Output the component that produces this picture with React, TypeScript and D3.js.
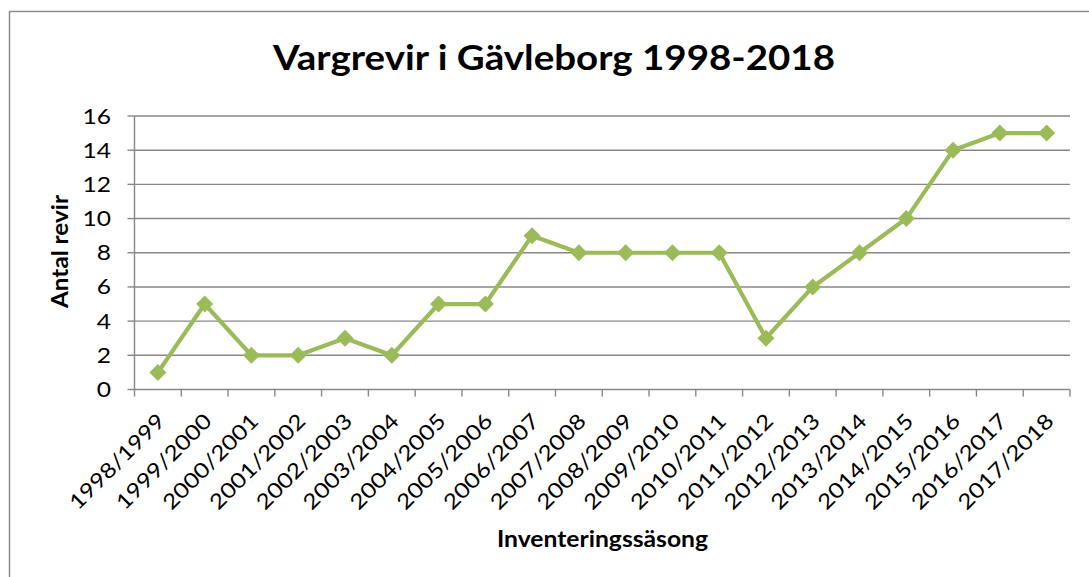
import React from "react";
import * as d3 from "d3";

const seasons = [
  "1998/1999", "1999/2000", "2000/2001", "2001/2002", "2002/2003",
  "2003/2004", "2004/2005", "2005/2006", "2006/2007", "2007/2008",
  "2008/2009", "2009/2010", "2010/2011", "2011/2012", "2012/2013",
  "2013/2014", "2014/2015", "2015/2016", "2016/2017", "2017/2018",
];
const revir = [1, 5, 2, 2, 3, 2, 5, 5, 9, 8, 8, 8, 8, 3, 6, 8, 10, 14, 15, 15];
const yTicks = [0, 2, 4, 6, 8, 10, 12, 14, 16];

const W = 1089;
const H = 577;
const left = 134.5;
const right = 1070;
const top = 116;
const bottom = 389.5;
const font = "Lato, 'Open Sans', 'Noto Sans', sans-serif";
const grid = "#878787";
const green = "#9BBB59";

export default function App() {
  const x = d3.scaleBand<string>().domain(seasons).range([left, right]).padding(0);
  const y = d3.scaleLinear().domain([0, 16]).range([bottom, top]);
  const cx = (s: string) => (x(s) as number) + x.bandwidth() / 2;
  const line = d3
    .line<number>()
    .x((_, i) => cx(seasons[i]))
    .y((d) => y(d));
  const tickXs = seasons.map((s) => x(s) as number).concat([right]);
  const m = 8.5;

  return (
    <svg
      width={W}
      height={H}
      style={{ position: "absolute", left: 0, top: 0, background: "#fff" }}
      fontFamily={font}
    >
      <rect x={0} y={0} width={W} height={H} fill="#fff" />
      <rect x={9.5} y={11.5} width={W + 10} height={H + 10} fill="none" stroke={grid} strokeWidth={1.4} />
      <text
        x={273}
        y={70}
        fontSize={35}
        fontWeight="bold"
        fill="#000"
        textLength={562}
        lengthAdjust="spacingAndGlyphs"
      >
        Vargrevir i Gävleborg 1998-2018
      </text>
      {yTicks.map((t) => (
        <g key={t}>
          {t > 0 && (
            <line x1={left} x2={right} y1={y(t)} y2={y(t)} stroke={grid} strokeWidth={1.4} />
          )}
          <line x1={left - 7} x2={left} y1={y(t)} y2={y(t)} stroke={grid} strokeWidth={1.4} />
          <text
            transform={`translate(111,${y(t) + 7.5}) scale(1.2,1)`}
            textAnchor="end"
            fontSize={20.5}
            fill="#000"
          >
            {t}
          </text>
        </g>
      ))}
      <line x1={left} x2={left} y1={top} y2={bottom} stroke={grid} strokeWidth={1.4} />
      <line x1={left} x2={right} y1={bottom} y2={bottom} stroke={grid} strokeWidth={1.4} />
      {tickXs.map((tx, i) => (
        <line key={i} x1={tx} x2={tx} y1={bottom} y2={bottom + 7} stroke={grid} strokeWidth={1.4} />
      ))}
      {seasons.map((s) => (
        <text
          key={s}
          transform={`translate(${cx(s) + 8.5},422.5) rotate(-45)`}
          textAnchor="end"
          fontSize={21}
          fill="#000"
          textLength={125}
          lengthAdjust="spacingAndGlyphs"
        >
          {s}
        </text>
      ))}
      <text
        transform={`translate(68,251.5) rotate(-90)`}
        textAnchor="middle"
        fontSize={23}
        fontWeight="bold"
        fill="#000"
        textLength={113}
        lengthAdjust="spacingAndGlyphs"
      >
        Antal revir
      </text>
      <text
        x={602.5}
        y={547}
        textAnchor="middle"
        fontSize={23}
        fontWeight="bold"
        fill="#000"
        textLength={211}
        lengthAdjust="spacingAndGlyphs"
      >
        Inventeringssäsong
      </text>
      <path d={line(revir) as string} fill="none" stroke={green} strokeWidth={4.2} strokeLinejoin="round" />
      {revir.map((v, i) => {
        const px = cx(seasons[i]);
        const py = y(v);
        return (
          <path
            key={i}
            d={`M${px},${py - m}L${px + m},${py}L${px},${py + m}L${px - m},${py}Z`}
            fill={green}
          />
        );
      })}
    </svg>
  );
}
